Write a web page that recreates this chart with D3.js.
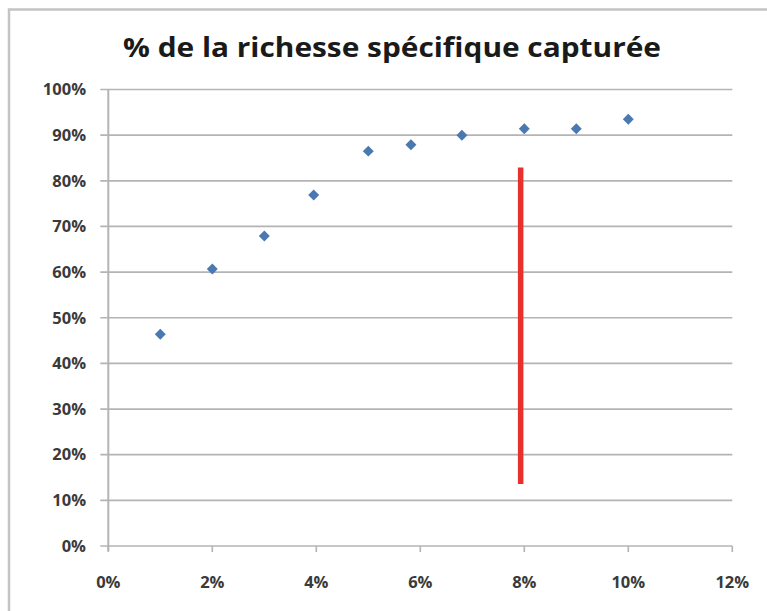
<!DOCTYPE html>
<html>
<head>
<meta charset="utf-8">
<script src="https://cdn.jsdelivr.net/npm/d3@7"></script>
<style>
  body { margin: 0; background: #fff; }
  svg { display: block; }
</style>
</head>
<body>
<div class="container"></div>
<script>
// effort d'échantillonnage (%) et richesse capturée (%)
let effort    = [1, 2, 3, 3.95, 5, 5.82, 6.8, 8, 9, 10];
let richesse  = [46.4, 60.7, 67.9, 76.9, 86.5, 87.9, 90.0, 91.4, 91.4, 93.5];
let xTicks    = [0, 2, 4, 6, 8, 10, 12];
let yTicks    = [0, 10, 20, 30, 40, 50, 60, 70, 80, 90, 100];
let seuil     = { x: 7.93, from: 13.6, to: 82.9 };
let title     = '% de la richesse spécifique capturée';

let width = 767,
    height = 611,
    margin = { top: 89.5, right: 34.7, bottom: 65, left: 108.3 };

let svg = d3.select('.container')
  .append('svg')
  .attr('width', width)
  .attr('height', height);

// cadre du graphique
svg.append('rect')
  .attr('x', 9).attr('y', 9.5)
  .attr('width', 800).attr('height', 700)
  .attr('fill', '#fff')
  .attr('stroke', '#c4c4c4')
  .attr('stroke-width', 2.5);

let xScale = d3.scaleLinear()
  .domain([0, 12])
  .range([margin.left, width - margin.right]);

let yScale = d3.scaleLinear()
  .domain([0, 100])
  .range([height - margin.bottom, margin.top]);

let grid = '#b4b4b4';

// lignes de grille horizontales (+ petites graduations à gauche)
svg.append('g')
  .selectAll('line')
  .data(yTicks)
  .enter()
  .append('line')
  .attr('x1', xScale(0) - 8)
  .attr('x2', xScale(12))
  .attr('y1', d => yScale(d))
  .attr('y2', d => yScale(d))
  .attr('stroke', grid)
  .attr('stroke-width', 1.7);

// axe vertical
svg.append('line')
  .attr('x1', xScale(0)).attr('x2', xScale(0))
  .attr('y1', yScale(100)).attr('y2', yScale(0) + 5)
  .attr('stroke', grid)
  .attr('stroke-width', 2);

// graduations de l'axe horizontal
svg.append('g')
  .selectAll('line')
  .data(xTicks)
  .enter()
  .append('line')
  .attr('x1', d => xScale(d))
  .attr('x2', d => xScale(d))
  .attr('y1', yScale(0))
  .attr('y2', yScale(0) + 6)
  .attr('stroke', grid)
  .attr('stroke-width', 1.6);

let labelStyle = sel => sel
  .style('font-family', '"Open Sans", sans-serif')
  .style('font-weight', 'bold')
  .style('font-size', '16.5px')
  .attr('fill', '#3a3a3a');

svg.append('g')
  .selectAll('text')
  .data(yTicks)
  .enter()
  .append('text')
  .attr('x', 86)
  .attr('y', d => yScale(d))
  .attr('dy', '0.35em')
  .attr('text-anchor', 'end')
  .text(d => d + '%')
  .call(labelStyle);

svg.append('g')
  .selectAll('text')
  .data(xTicks)
  .enter()
  .append('text')
  .attr('x', d => xScale(d))
  .attr('y', 582)
  .attr('dy', '0.35em')
  .attr('text-anchor', 'middle')
  .text(d => d + '%')
  .call(labelStyle);

// points
svg.append('g')
  .selectAll('path')
  .data(effort)
  .enter()
  .append('path')
  .attr('d', d3.symbol().type(d3.symbolSquare).size(60))
  .attr('transform', (d, i) => `translate(${xScale(d)}, ${yScale(richesse[i])}) rotate(45)`)
  .attr('fill', '#4a78b0');

// trait rouge
svg.append('line')
  .attr('x1', xScale(seuil.x)).attr('x2', xScale(seuil.x))
  .attr('y1', yScale(seuil.to)).attr('y2', yScale(seuil.from))
  .attr('stroke', '#e8302c')
  .attr('stroke-width', 5.5);

svg.append('text')
  .attr('x', 392)
  .attr('y', 57)
  .attr('text-anchor', 'middle')
  .style('font-family', '"Open Sans", sans-serif')
  .style('font-weight', 'bold')
  .style('font-size', '26px')
  .attr('fill', '#1a1a1a')
  .attr('textLength', 538)
  .attr('lengthAdjust', 'spacingAndGlyphs')
  .text(title);
</script>
</body>
</html>
